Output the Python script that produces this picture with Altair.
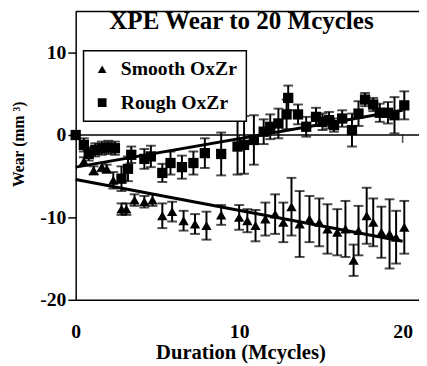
import altair as alt
import pandas as pd

# ---- data ----
smooth_x = [0, 0.5, 1.1, 1.6, 1.9, 2.3, 2.8, 3.1, 3.6, 4.2, 4.7, 5.3, 5.9, 6.6, 7.3, 8.0, 8.9,
            10.0, 10.5, 11.0, 11.6, 12.2, 12.7, 13.2, 13.7, 14.3, 14.9, 15.4, 16.0, 16.5, 17.0,
            17.3, 17.8, 18.2, 18.7, 19.2, 19.6, 20.1]
smooth_y = [0, -3.2, -4.3, -3.9, -4.1, -5.5, -9.0, -9.0, -7.9, -8.1, -7.9, -9.8, -9.3, -10.4,
            -10.8, -11.0, -9.7, -10.0, -10.4, -11.0, -10.2, -9.6, -10.6, -8.7, -10.8, -10.2,
            -10.6, -11.4, -11.8, -11.4, -15.2, -11.6, -9.8, -10.6, -11.8, -12.0, -12.4, -11.2]
smooth_err = [0, 0.5, 0.5, 0.5, 0.5, 1.0, 0.7, 0.7, 0.7, 0.7, 0.7, 1.5, 1.2, 1.2, 1.2, 1.7, 1.2,
              1.5, 1.4, 1.9, 2.0, 2.4, 2.4, 3.5, 4.0, 2.8, 2.9, 3.0, 2.8, 3.4, 1.9, 3.0, 3.4,
              2.9, 3.1, 4.2, 3.2, 3.2]

rough_x = [0, 0.5, 0.8, 1.2, 1.6, 2.0, 2.4, 2.8, 3.2, 3.4, 4.2, 4.6, 5.3, 5.8, 6.5, 7.2, 7.9,
           8.9, 9.9, 10.3, 10.9, 11.5, 11.9, 12.4, 12.9, 13.0, 13.6, 14.1, 14.7, 15.1, 15.5,
           15.8, 16.3, 16.9, 17.3, 17.7, 18.2, 18.6, 19.1, 19.5, 20.1]
rough_y = [0, -1.2, -2.3, -1.8, -1.6, -1.5, -1.6, -5.3, -4.1, -2.4, -2.9, -2.6, -4.6, -3.4, -3.9,
           -3.4, -2.2, -2.3, -1.4, -1.2, -0.6, 0.4, 1.0, 1.4, 2.5, 4.5, 2.5, 1.0, 2.2, 1.6, 1.8,
           1.2, 2.0, 0.6, 2.6, 4.3, 3.7, 2.7, 2.7, 2.4, 3.6]
rough_err = [0, 0.8, 0.8, 0.8, 0.8, 0.8, 0.8, 1.5, 1.5, 1.0, 1.2, 1.3, 1.1, 1.4, 1.4, 1.4, 1.8,
             2.6, 3.4, 3.5, 3.0, 1.5, 1.5, 1.8, 1.8, 1.5, 1.2, 1.2, 1.1, 1.0, 1.0, 0.8, 1.0, 2.0,
             1.5, 0.8, 0.8, 1.1, 1.3, 2.2, 1.7]

fit_x = [0, 20]
smooth_fit = [-5.4, -12.9]
rough_fit = [-3.9, 3.0]

series_names = ["Smooth OxZr", "Rough OxZr"]
series_shapes = ["triangle-up", "square"]
x_ticks = [0, 10, 20]
y_ticks = [-20, -10, 0, 10]
zero_ticks = [10, 20]
title_text = "XPE Wear to 20 Mcycles"
x_title = "Duration (Mcycles)"
y_title = "Wear (mm \u00b3)"

FONT = "Liberation Serif"

pts = pd.concat([
    pd.DataFrame({"x": smooth_x, "y": smooth_y, "e": smooth_err, "series": series_names[0]}),
    pd.DataFrame({"x": rough_x, "y": rough_y, "e": rough_err, "series": series_names[1]}),
], ignore_index=True)
pts["lo"] = pts["y"] - pts["e"]
pts["hi"] = pts["y"] + pts["e"]

fits = pd.concat([
    pd.DataFrame({"x": fit_x, "y": smooth_fit, "series": series_names[0]}),
    pd.DataFrame({"x": fit_x, "y": rough_fit, "series": series_names[1]}),
], ignore_index=True)

xs = alt.Scale(domain=[0, 21], nice=False, zero=False)
ys = alt.Scale(domain=[-20, 15], nice=False, zero=False)

x_enc = alt.X("x:Q", scale=xs, title=x_title,
              axis=alt.Axis(values=x_ticks, ticks=False, labelPadding=22, grid=False,
                            domainColor="black", domainWidth=1.5, labelFont=FONT,
                            labelFontSize=20, labelFontWeight="bold", labelColor="black",
                            labelExpr="'' + datum.value",
                            titleFont=FONT, titleFontSize=21, titleFontWeight="bold",
                            titleColor="black", titlePadding=1, titleX=168,
                            labelFlush=False))
y_enc = alt.Y("y:Q", scale=ys, title=y_title,
              axis=alt.Axis(values=y_ticks, tickSize=8, tickWidth=1.5, tickColor="black",
                            labelPadding=2, grid=False, domainColor="black", domainWidth=1.5,
                            labelFont=FONT, labelFontSize=20, labelFontWeight="bold",
                            labelColor="black", labelExpr="'' + datum.value",
                            titleFont=FONT, titleFontSize=16,
                            titleFontWeight="bold", titleColor="black", titleX=-50, titleY=135,
                            titleAngle=-90, titleAlign="center", titleBaseline="bottom"))

base = alt.Chart(pts)

bars = base.mark_rule(color="black", strokeWidth=2).encode(
    x=alt.X("x:Q", scale=xs), y=alt.Y("lo:Q", scale=ys), y2="hi:Q")
cap_lo = base.mark_tick(color="black", orient="horizontal", size=10, thickness=2).encode(
    x=alt.X("x:Q", scale=xs), y=alt.Y("lo:Q", scale=ys))
cap_hi = base.mark_tick(color="black", orient="horizontal", size=10, thickness=2).encode(
    x=alt.X("x:Q", scale=xs), y=alt.Y("hi:Q", scale=ys))

points = base.mark_point(filled=True, color="black", opacity=1, size=110).encode(
    x=x_enc, y=y_enc,
    shape=alt.Shape("series:N",
                    scale=alt.Scale(domain=series_names, range=series_shapes),
                    legend=alt.Legend(title=None, orient="none", legendX=8, legendY=40,
                                      strokeColor="black", fillColor="white",
                                      padding=9, rowPadding=14, labelFont=FONT,
                                      labelFontSize=20, labelFontWeight="bold",
                                      labelColor="black", symbolSize=80,
                                      symbolFillColor="black", symbolStrokeColor="black",
                                      labelOffset=9)))

lines = alt.Chart(fits).mark_line(color="black", strokeWidth=3).encode(
    x=alt.X("x:Q", scale=xs), y=alt.Y("y:Q", scale=ys), detail="series:N")

zero = alt.Chart(pd.DataFrame({"v": [0]})).mark_rule(color="black", strokeWidth=1.5).encode(
    y=alt.Y("v:Q", scale=ys))
top = alt.Chart(pd.DataFrame({"v": [15]})).mark_rule(color="black", strokeWidth=1.5).encode(
    y=alt.Y("v:Q", scale=ys))
zt = alt.Chart(pd.DataFrame({"x": zero_ticks, "v": [0] * len(zero_ticks)})).mark_tick(
    color="black", orient="vertical", size=8, thickness=1.5, yOffset=4).encode(
    x=alt.X("x:Q", scale=xs), y=alt.Y("v:Q", scale=ys))

title = alt.Chart(pd.DataFrame({"t": [title_text]})).mark_text(
    font=FONT, fontSize=25.5, fontWeight="bold", color="black", align="center",
    baseline="alphabetic").encode(text="t:N", x=alt.value(169), y=alt.value(18))

chart = alt.layer(zero, top, zt, lines, bars, cap_lo, cap_hi, points, title).properties(
    width=350, height=294,
    autosize=alt.AutoSizeParams(type="none"),
    padding={"left": 69, "top": 0, "right": 0, "bottom": 64},
).configure_view(stroke=None).configure_legend(strokeWidth=1.5)

chart.save("out.html", embed_options={"renderer": "svg", "actions": False})
